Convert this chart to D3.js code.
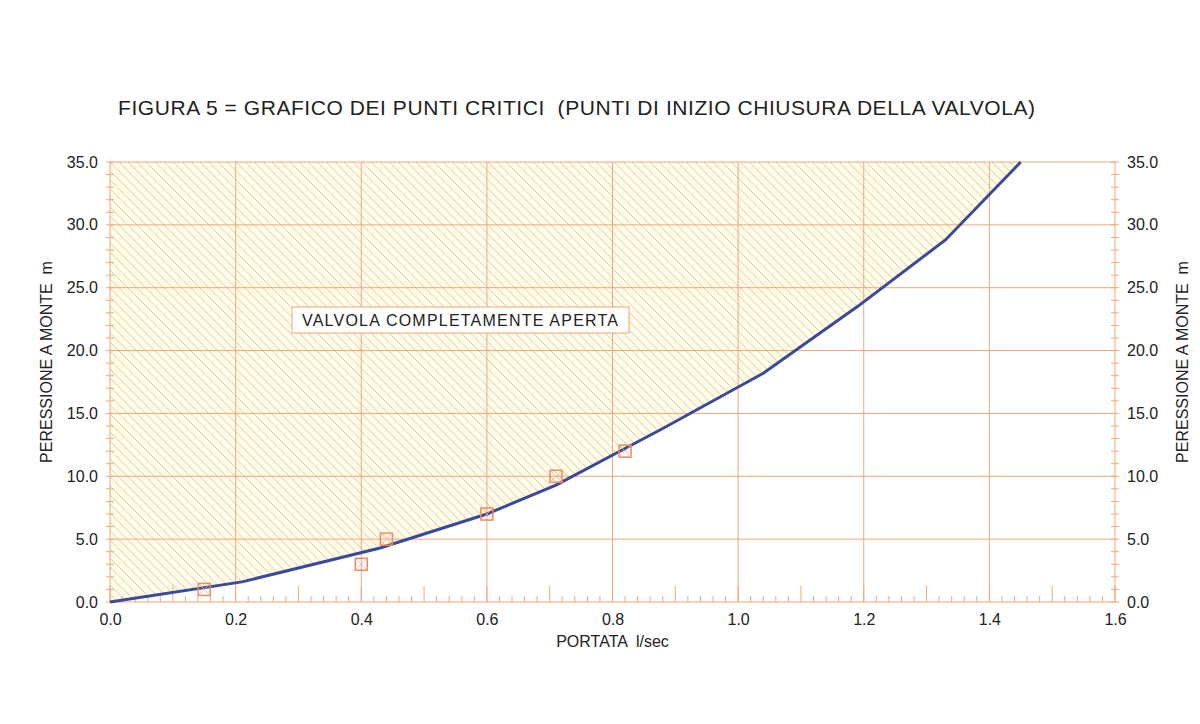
<!DOCTYPE html>
<html><head><meta charset="utf-8">
<script src="https://cdn.jsdelivr.net/npm/d3@7"></script>
<style>body{margin:0;background:#fff}text{font-family:"Liberation Sans",Arial,sans-serif}</style>
</head><body><svg width="1200" height="724"></svg>
<script>
const curveX = [0, 0.21, 0.43, 0.6, 0.71, 0.88, 1.04, 1.19, 1.33, 1.45];
const curveY = [0, 1.6, 4.3, 7.0, 9.3, 13.8, 18.2, 23.5, 28.8, 35.0];
const pointX = [0.15, 0.40, 0.44, 0.60, 0.71, 0.82];
const pointY = [1, 3, 5, 7, 10, 12];
const xTicks = [0, 0.2, 0.4, 0.6, 0.8, 1.0, 1.2, 1.4, 1.6];
const yTicks = [0, 5, 10, 15, 20, 25, 30, 35];

const M = { left: 110, right: 85, top: 162, bottom: 122 };
const W = 1200 - M.left - M.right, H = 724 - M.top - M.bottom;
const svg = d3.select("svg");
const defs = svg.append("defs");
const pat = defs.append("pattern").attr("id", "hatch").attr("patternUnits", "userSpaceOnUse")
  .attr("width", 9).attr("height", 9);
pat.append("rect").attr("width", 9).attr("height", 9).attr("fill", "#fffbe6");
pat.append("path").attr("d", "M-2,-2L11,11M-2,7L2,11M7,-2L11,2").attr("stroke", "#d8c8b0").attr("stroke-width", 0.9);

const g = svg.append("g").attr("transform", `translate(${M.left},${M.top})`);
const x = d3.scaleLinear().domain([0, 1.6]).range([0, W]);
const y = d3.scaleLinear().domain([0, 35]).range([H, 0]);
const curve = curveX.map((v, i) => [v, curveY[i]]);

const area = [[0, 0], ...curve, [curveX[curveX.length - 1], 35], [0, 35]];
g.append("path").attr("d", d3.line().x(d => x(d[0])).y(d => y(d[1]))(area))
  .attr("fill", "url(#hatch)");

const grid = "#f0a878";
g.selectAll(".gx").data(xTicks).join("line").attr("x1", d => x(d)).attr("x2", d => x(d))
  .attr("y1", 0).attr("y2", H).attr("stroke", grid);
g.selectAll(".gy").data(yTicks).join("line").attr("y1", d => y(d)).attr("y2", d => y(d))
  .attr("x1", 0).attr("x2", W).attr("stroke", grid);

const minorX = d3.range(0, 81).map(i => i * 0.02);
g.selectAll(".mx").data(minorX).join("line").attr("x1", d => x(d)).attr("x2", d => x(d))
  .attr("y1", H).attr("y2", (d, i) => H - (i % 5 === 0 ? 16 : 6)).attr("stroke", grid);
const minorY = d3.range(0, 36);
[0, W].forEach(px => {
  g.selectAll(null).data(minorY).join("line").attr("x1", px - 4).attr("x2", px + 4)
    .attr("y1", d => y(d)).attr("y2", d => y(d)).attr("stroke", grid);
});

const tf = d3.format(".1f");
const styleTicks = a => { a.select(".domain").remove(); a.selectAll("text").attr("font-size", 16).attr("fill", "#222"); };
g.append("g").attr("transform", `translate(0,${H})`)
  .call(d3.axisBottom(x).tickValues(xTicks).tickFormat(tf).tickSize(0).tickPadding(12)).call(styleTicks);
g.append("g").call(d3.axisLeft(y).tickValues(yTicks).tickFormat(tf).tickSize(0).tickPadding(12)).call(styleTicks);
g.append("g").attr("transform", `translate(${W},0)`)
  .call(d3.axisRight(y).tickValues(yTicks).tickFormat(tf).tickSize(0).tickPadding(12)).call(styleTicks);

g.append("path").attr("d", d3.line().x(d => x(d[0])).y(d => y(d[1]))(curve))
  .attr("fill", "none").attr("stroke", "#3a4a9a").attr("stroke-width", 3);

g.selectAll(".pt").data(pointX).join("g")
  .attr("transform", (d, i) => `translate(${x(d)},${y(pointY[i])})`)
  .each(function () {
    const s = d3.select(this);
    s.append("rect").attr("x", -6).attr("y", -6).attr("width", 12).attr("height", 12)
      .attr("fill", "none").attr("stroke", "#f08860").attr("stroke-width", 1.5);
    s.append("path").attr("d", "M-6,-6L6,6M-6,6L6,-6").attr("stroke", "#f4b090").attr("stroke-width", 0.8);
  });

const bx = g.append("g").attr("transform", `translate(${292 - M.left},${307 - M.top})`);
bx.append("rect").attr("width", 337).attr("height", 26).attr("fill", "#fff").attr("stroke", "#f0a878");
bx.append("text").attr("x", 10).attr("y", 19).attr("font-size", 16).attr("textLength", 316)
  .attr("fill", "#222").text("VALVOLA COMPLETAMENTE APERTA");

svg.append("text").attr("x", 118).attr("y", 115).attr("font-size", 21).attr("fill", "#222")
  .attr("textLength", 917).style("white-space", "pre")
  .text("FIGURA 5 = GRAFICO DEI PUNTI CRITICI  (PUNTI DI INIZIO CHIUSURA DELLA VALVOLA)");
svg.append("text").attr("x", M.left + x(0.8)).attr("y", 647).attr("text-anchor", "middle")
  .attr("font-size", 16).attr("fill", "#222").style("white-space", "pre").text("PORTATA  l/sec");
[52, 1188].forEach(px => {
  svg.append("text").attr("transform", `translate(${px},${M.top + H / 2 - 20}) rotate(-90)`)
    .attr("text-anchor", "middle").attr("font-size", 16).attr("fill", "#222")
    .style("white-space", "pre").text("PERESSIONE A MONTE  m");
});
</script></body></html>
